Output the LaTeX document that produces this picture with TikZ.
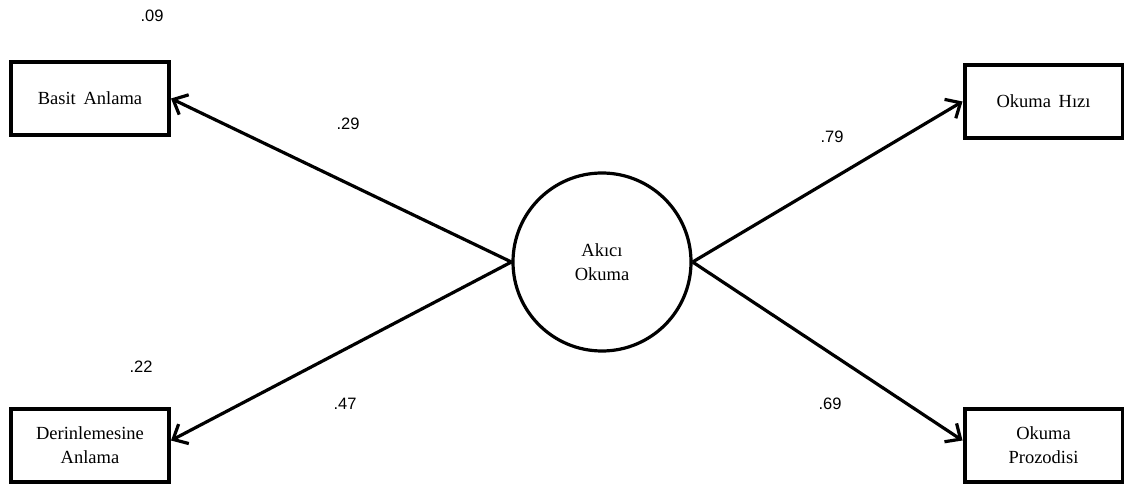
\documentclass[tikz,border=0pt]{standalone}
\usepackage{fontspec}
\setmainfont{Liberation Serif}
\newfontfamily\numfont{Liberation Sans}
\usetikzlibrary{arrows.meta,calc}
\begin{document}
\begin{tikzpicture}[x=1pt,y=-1pt,
  box/.style={draw,line width=4pt,minimum width=158pt,minimum height=73pt,inner sep=0pt,align=center,font=\fontsize{18.5}{24}\selectfont},
  latent/.style={draw,circle,line width=3.2pt,minimum size=178pt,inner sep=0pt,align=center,font=\fontsize{18.5}{24}\selectfont},
  path/.style={line width=3.2pt,-{Straight Barb[length=12pt,width=22pt,line width=3.2pt]}},
  coef/.style={font=\numfont\fontsize{16.5}{20}\selectfont}]
\useasboundingbox (0,0) rectangle (1124,486);
\node[box] (ba) at (90,98.5) {Basit\, Anlama};
\node[box] (da) at (90,445.5) {Derinlemesine\\Anlama};
\node[box] (oh) at (1043.5,101.5) {Okuma\, Hızı};
\node[box] (op) at (1043.5,445.5) {Okuma\\Prozodisi};
\node[latent] (ak) at (602,262) {Akıcı\\Okuma};
\draw[path] (ak.west) -- (ba.east);
\draw[path] (ak.west) -- ($(da.east)+(0,-5)$);
\draw[path] (ak.east) -- (oh.west);
\draw[path] (ak.east) -- ($(op.west)+(0,-5)$);
\node[coef] (c09) at (152,16) {.09};
\node[coef] (c29) at (348,124) {.29};
\node[coef] (c22) at (141,367) {.22};
\node[coef] (c47) at (345,404) {.47};
\node[coef] (c79) at (832,137) {.79};
\node[coef] (c69) at (830,404) {.69};
\end{tikzpicture}
\end{document}
